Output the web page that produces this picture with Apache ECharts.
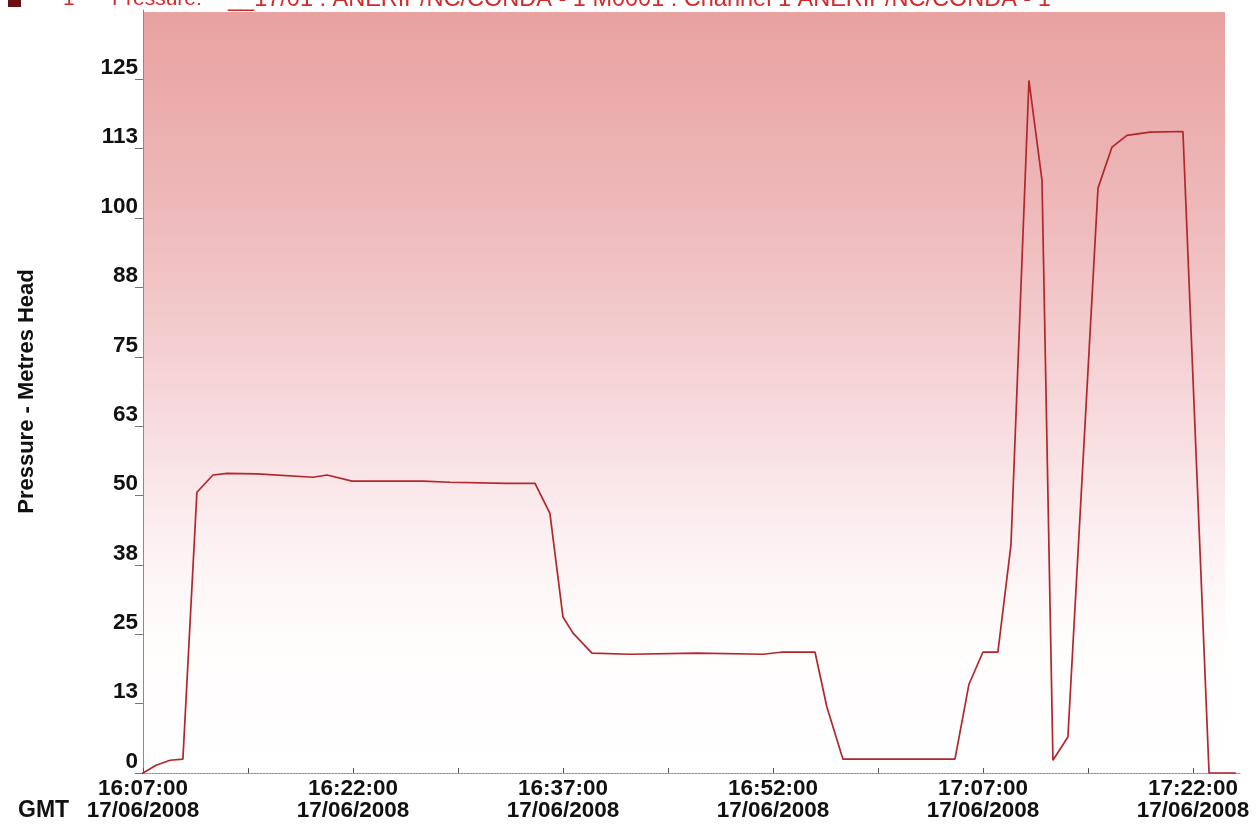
<!DOCTYPE html>
<html>
<head>
<meta charset="utf-8">
<script src="https://cdn.jsdelivr.net/npm/echarts@6/dist/echarts.min.js"></script>
<style>
  html, body { margin: 0; padding: 0; background: #ffffff; }
  #chart { width: 1256px; height: 827px; }
</style>
</head>
<body>
<div id="chart"></div>
<script>
// Logger readings, 17/06/2008 (GMT)
const sampleTimes = [
  '16:05:45', '16:07:00', '16:07:56', '16:08:56', '16:09:51', '16:10:51',
  '16:12:00', '16:13:00', '16:15:09', '16:19:09', '16:20:09', '16:21:56',
  '16:27:00', '16:28:56', '16:33:00', '16:35:00', '16:36:04', '16:37:00',
  '16:37:43', '16:39:04', '16:41:47', '16:46:34', '16:51:17', '16:52:43',
  '16:55:00', '16:55:51', '16:57:00', '17:05:00', '17:06:00', '17:07:00',
  '17:08:04', '17:09:00', '17:10:17', '17:11:13', '17:12:00', '17:13:04',
  '17:15:13', '17:16:13', '17:17:17', '17:18:56', '17:21:17', '17:23:09',
  '17:25:04'
];
const pressureHead = [
  0, 0, 1.4, 2.3, 2.5, 50.6,
  53.7, 54.0, 53.9, 53.3, 53.7, 52.6,
  52.6, 52.4, 52.2, 52.2, 46.8, 28.1,
  25.2, 21.6, 21.4, 21.6, 21.4, 21.8,
  21.8, 11.9, 2.5, 2.5, 16.0, 21.8,
  21.8, 41.1, 124.8, 106.8, 2.3, 6.5,
  105.4, 112.8, 114.9, 115.5, 115.6, 0,
  0
];
const logDate = '17/06/2008';
const axisStart = '16:07:00';
const axisEndMinutes = 78.36;
const headerParts = ['1', 'Pressure:', '__17/01 : ANERIP/NC/CONDA - 1 M0001 : Channel 1 ANERIP/NC/CONDA - 1'];

function toSeconds(t) {
  const p = t.split(':').map(Number);
  return p[0] * 3600 + p[1] * 60 + p[2];
}
const startSec = toSeconds(axisStart);
function minutesFromStart(t) { return (toSeconds(t) - startSec) / 60; }
function clockLabel(mins) {
  let s = Math.round(startSec + mins * 60);
  const h = Math.floor(s / 3600); s -= h * 3600;
  const m = Math.floor(s / 60); s -= m * 60;
  const pad = n => String(n).padStart(2, '0');
  return pad(h) + ':' + pad(m) + ':' + pad(s);
}

const points = sampleTimes.map((t, i) => [minutesFromStart(t), pressureHead[i]]);

const chart = echarts.init(document.getElementById('chart'));
const font = '"Liberation Sans", Arial, sans-serif';

chart.setOption({
  animation: false,
  backgroundColor: '#ffffff',
  grid: { left: 143, right: 16, top: 10, bottom: 54 },
  graphic: [
    {
      type: 'rect', z: -10, silent: true,
      shape: { x: 143, y: 12, width: 1082, height: 761 },
      style: {
        fill: new echarts.graphic.LinearGradient(0, 0, 0, 1, [
          { offset: 0, color: '#e8a2a0' },
          { offset: 0.25, color: '#eeb8b9' },
          { offset: 0.5, color: '#f6d6d9' },
          { offset: 0.68, color: '#fcefF1' },
          { offset: 0.82, color: '#fffcfc' },
          { offset: 1, color: '#ffffff' }
        ])
      }
    },
    {
      type: 'rect', silent: true,
      shape: { x: 8, y: -6, width: 13, height: 13 },
      style: { fill: '#6b0f0f' }
    },
    {
      type: 'text', silent: true, left: 63, top: -11,
      style: { text: headerParts[0], font: '21px ' + font, fill: '#d42a2a' }
    },
    {
      type: 'text', silent: true, left: 112, top: -11,
      style: { text: headerParts[1], font: '21px ' + font, fill: '#d42a2a' }
    },
    {
      type: 'text', silent: true, left: 228, top: -12,
      style: { text: headerParts[2], font: '23.5px ' + font, fill: '#d42a2a' }
    },
    {
      type: 'text', silent: true, left: 18, top: 799,
      style: { text: 'GMT', font: 'bold 23px ' + font, fill: '#111111' }
    }
  ],
  xAxis: {
    type: 'value',
    min: 0,
    max: axisEndMinutes,
    interval: 7.5,
    splitLine: { show: false },
    axisLine: { onZero: false, lineStyle: { color: '#8a8f99', width: 1, type: [2, 1] } },
    axisTick: { inside: true, length: 5, lineStyle: { color: '#555555' } },
    axisLabel: {
      showMaxLabel: false,
      margin: 5,
      color: '#111111',
      fontFamily: font,
      fontWeight: 'bold',
      fontSize: 22.5,
      lineHeight: 22,
      formatter: v => (Math.round(v / 7.5) % 2 === 0 ? clockLabel(v) + '\n' + logDate : '')
    }
  },
  yAxis: {
    type: 'value',
    min: 0,
    max: 137.5,
    interval: 12.5,
    name: 'Pressure - Metres Head',
    nameLocation: 'middle',
    nameGap: 105,
    nameTextStyle: { color: '#111111', fontFamily: font, fontWeight: 'bold', fontSize: 22 },
    splitLine: { show: false },
    axisLine: { show: true, lineStyle: { color: '#8a8a8a', width: 1 } },
    axisTick: { show: true, length: 8, lineStyle: { color: '#777777' } },
    axisLabel: {
      showMaxLabel: false,
      margin: 5,
      verticalAlign: 'bottom',
      color: '#111111',
      fontFamily: font,
      fontWeight: 'bold',
      fontSize: 22.5,
      formatter: v => String(Math.round(v))
    }
  },
  series: [{
    type: 'line',
    data: points,
    clip: false,
    showSymbol: false,
    lineStyle: { color: '#b3262c', width: 1.7 }
  }]
});
</script>
</body>
</html>
